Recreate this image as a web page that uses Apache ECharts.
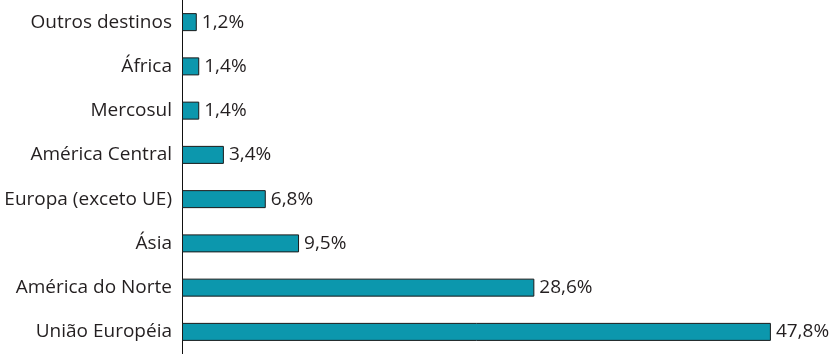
<!DOCTYPE html>
<html><head><meta charset="utf-8">
<script src="https://cdn.jsdelivr.net/npm/echarts@6/dist/echarts.min.js"></script>
<style>html,body{margin:0;padding:0;background:#fff}#c{width:838px;height:354px}</style>
</head><body><div id="c"></div>
<script>
const categories = ["União Européia","América do Norte","Ásia","Europa (exceto UE)","América Central","Mercosul","África","Outros destinos"];
const values = [47.8, 28.6, 9.5, 6.8, 3.4, 1.4, 1.4, 1.2];
const labels = ["47,8%","28,6%","9,5%","6,8%","3,4%","1,4%","1,4%","1,2%"];
const chart = echarts.init(document.getElementById('c'));
chart.setOption({
  animation:false,
  grid:{left:182,right:40,top:0,bottom:0,containLabel:false,outerBoundsMode:'none'},
  xAxis:{type:'value',min:0,max:50,show:false},
  yAxis:{type:'category',data:categories,
    axisLine:{show:true,lineStyle:{color:'#111',width:1}},
    axisTick:{show:false},
    axisLabel:{color:'#231f20',fontSize:19,fontFamily:'Open Sans',margin:10}},
  series:[{type:'bar',data:values,barWidth:18,
    itemStyle:{color:'#0c97ad',borderColor:'#1a1a1a',borderWidth:1},
    label:{show:true,position:'right',distance:5,color:'#231f20',fontSize:19,fontFamily:'Open Sans',
      formatter:p=>labels[p.dataIndex]}}]
});
</script></body></html>
